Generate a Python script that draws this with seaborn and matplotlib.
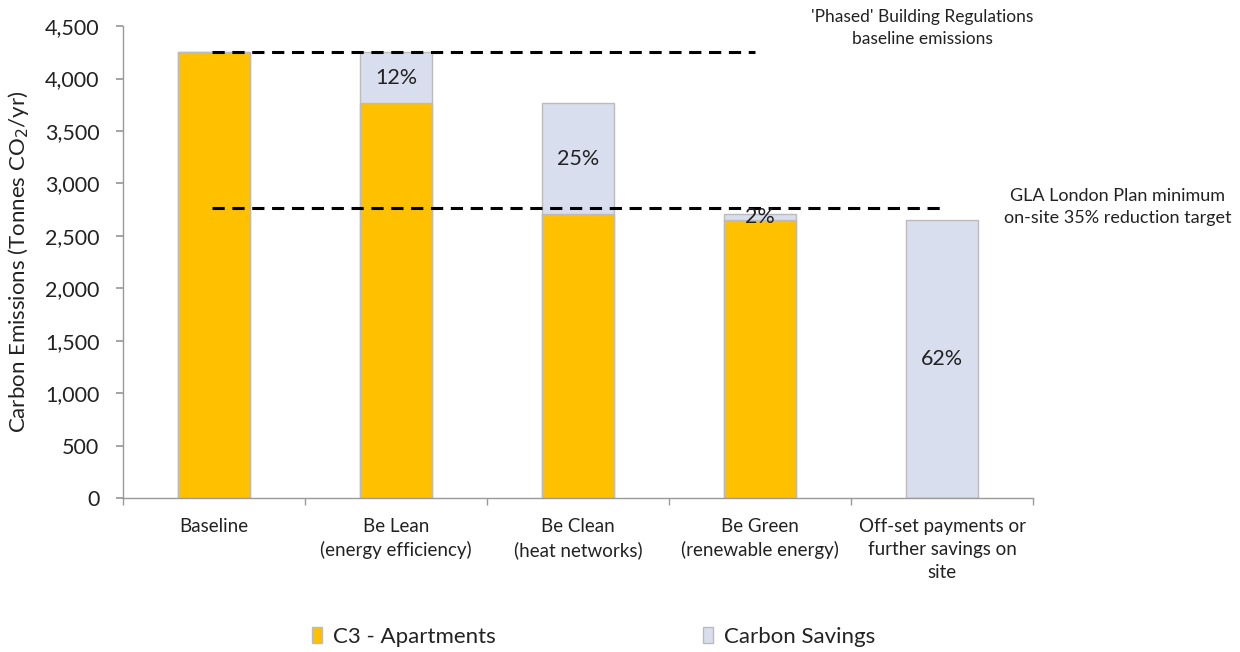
import numpy as np
import pandas as pd
import matplotlib
matplotlib.use("Agg")
import matplotlib.pyplot as plt
import seaborn as sns
from matplotlib.patches import Patch

categories = ["Baseline", "Be Lean\n(energy efficiency)", "Be Clean\n(heat networks)",
              "Be Green\n(renewable energy)", "Off-set payments or\nfurther savings on\nsite"]
apartments = [4250, 3766, 2707, 2650, 0]
savings = [0, 484, 1059, 57, 2650]
pct_labels = ["", "12%", "25%", "2%", "62%"]
baseline_line = 4250
target_line = 2762
yticks = [0, 500, 1000, 1500, 2000, 2500, 3000, 3500, 4000, 4500]

sns.set_theme(style="white")
plt.rcParams['font.family'] = ['Lato', 'DejaVu Sans']

YELLOW = "#FFC000"
LAV = "#D9DEEE"
EDGE = "#BBBBBB"

df = pd.DataFrame({"cat": categories, "apt": apartments, "sav": savings})
df["total"] = df["apt"] + df["sav"]

fig = plt.figure(figsize=(12.4, 6.52), dpi=100)
ax = fig.add_axes([0.0992, 0.236, 0.7339, 0.724])

sns.barplot(data=df, x="cat", y="total", color=LAV, edgecolor=EDGE, linewidth=1,
            width=0.4, ax=ax, saturation=1)
sns.barplot(data=df, x="cat", y="apt", color=YELLOW, edgecolor=EDGE, linewidth=1,
            width=0.4, ax=ax, saturation=1)

for i, lab in enumerate(pct_labels):
    if lab:
        yc = apartments[i] + savings[i] / 2
        ax.text(i, yc, lab, ha="center", va="center", fontsize=15.5, color="#222222")

ax.hlines(baseline_line, -0.01, 2.97, colors="black", linestyles=(0, (4, 2.5)), linewidth=2.2)
ax.hlines(target_line, -0.01, 4.02, colors="black", linestyles=(0, (4, 2.5)), linewidth=2.2)

ax.set_xlim(-0.5, 4.5)
ax.set_ylim(0, 4500)
ax.set_yticks(yticks)
ax.set_yticklabels([f"{v:,}" for v in yticks], fontsize=15.5, color="#222222")
ax.set_xticks(range(len(categories)))
ax.set_xticklabels(categories, fontsize=13.5, color="#222222", linespacing=1.45)
ax.tick_params(axis="x", length=0, pad=14)
ax.set_xticks(np.arange(-0.5, 5, 1), minor=True)
ax.tick_params(axis="x", which="minor", length=5, color="#999999", direction="out", bottom=True)
ax.tick_params(axis="y", length=5, color="#999999", direction="out", left=True, pad=12)
ax.set_xlabel("")
ax.set_ylabel(r"Carbon Emissions (Tonnes CO$_2$/yr)", fontsize=16, color="#222222", labelpad=10)

for s in ["top", "right"]:
    ax.spines[s].set_visible(False)
for s in ["left", "bottom"]:
    ax.spines[s].set_color("#999999")
    ax.spines[s].set_linewidth(1)

fig.text(922 / 1240, 1 - 28 / 652, "'Phased' Building Regulations\nbaseline emissions",
         ha="center", va="center", fontsize=12.5, color="#222222", linespacing=1.5)
fig.text(1118 / 1240, 1 - 207 / 652, "GLA London Plan minimum\non-site 35% reduction target",
         ha="center", va="center", fontsize=13, color="#222222", linespacing=1.5)

handles = [Patch(facecolor=YELLOW, edgecolor=EDGE, label="C3 - Apartments"),
           Patch(facecolor=LAV, edgecolor=EDGE, label="Carbon Savings")]
fig.legend(handles=handles, loc="center left", bbox_to_anchor=(292 / 1240, 1 - 637 / 652),
           ncol=2, frameon=False, fontsize=16, handlelength=0.45, handleheight=0.7,
           columnspacing=9.3, handletextpad=0.5, labelcolor="#222222")

fig.savefig("out.png", dpi=100)
